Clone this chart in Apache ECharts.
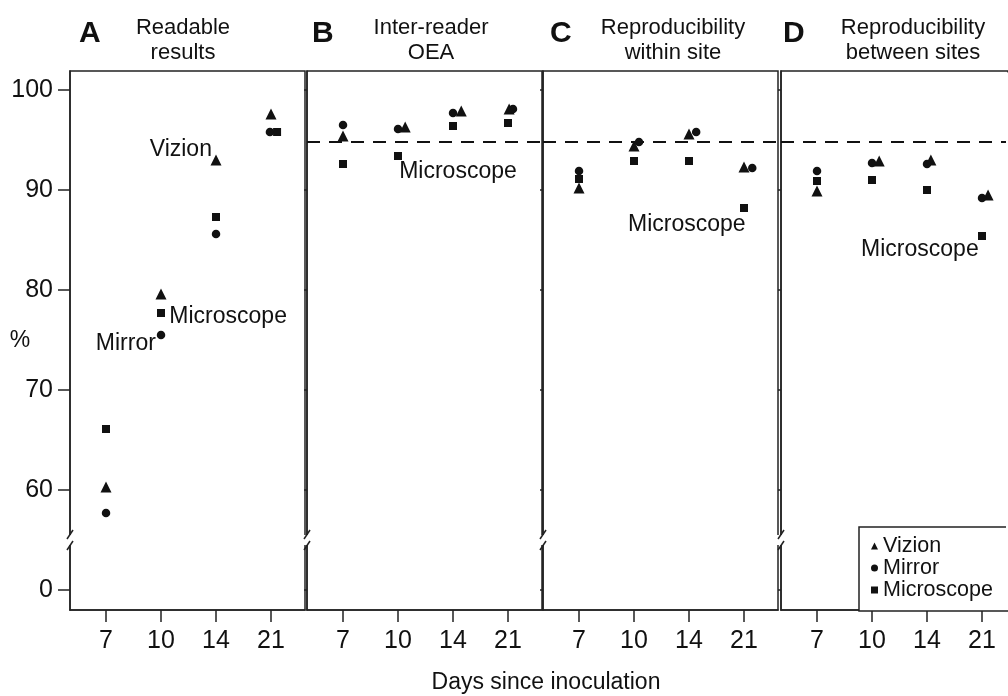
<!DOCTYPE html>
<html>
<head>
<meta charset="utf-8">
<script src="https://cdn.jsdelivr.net/npm/echarts@6/dist/echarts.min.js"></script>
<style>
  html, body { margin: 0; padding: 0; background: #fff; }
  #main { width: 1008px; height: 696px; }
</style>
</head>
<body>
<div id="main"></div>
<script>
// x categories (days since inoculation)
const days = ['7', '10', '14', '21']
const letters = ['A', 'B', 'C', 'D']
const titles = ['Readable\nresults', 'Inter-reader\nOEA', 'Reproducibility\nwithin site', 'Reproducibility\nbetween sites']

// % per panel (A..D), one value per day
const vizion = [
  [60.3, 79.6, 93.0, 97.6],
  [95.4, 96.3, 97.9, 98.1],
  [90.2, 94.4, 95.6, 92.3],
  [89.9, 92.9, 93.0, 89.5]
]
const mirror = [
  [57.7, 75.5, 85.6, 95.8],
  [96.5, 96.1, 97.7, 98.1],
  [91.9, 94.8, 95.8, 92.2],
  [91.9, 92.7, 92.6, 89.2]
]
const microscope = [
  [66.1, 77.7, 87.3, 95.8],
  [92.6, 93.4, 96.4, 96.7],
  [91.1, 92.9, 92.9, 88.2],
  [90.9, 91.0, 90.0, 85.4]
]
// dashed reference line in panels B-D
const target = 94.8

// y tick values; the axis is broken, 50 stands for 0
const yTicks = [50, 60, 70, 80, 90, 100]
const yLabels = ['0', '60', '70', '80', '90', '100']

// small horizontal nudges the original used so markers don't overlap
const nudge = {
  vizion: [[0, 0, 0, 0], [0, 0.13, 0.15, 0.02], [0, 0, 0, 0], [0, 0.13, 0.07, 0.11]],
  mirror: [[0, 0, 0, -0.02], [0, 0, 0, 0.09], [0, 0.09, 0.13, 0.15], [0, 0, 0, 0]],
  microscope: [[0, 0, 0, 0.11], [0, 0, 0, 0], [0, 0, 0, 0], [0, 0, 0, 0]]
}

// text annotations: panel, text, x (day index), y (%)
const notes = [
  [0, 'Vizion', 1.36, 94.0],
  [0, 'Microscope', 2.22, 77.3],
  [0, 'Mirror', 0.36, 74.6],
  [1, 'Microscope', 2.09, 91.85],
  [2, 'Microscope', 1.96, 86.55],
  [3, 'Microscope', 1.87, 84.0]
]

const FONT = '"Liberation Sans", Arial, Helvetica, sans-serif'
const INK = '#111'
const lefts = [70, 307, 543, 781]
const widths = [235, 235, 235, 227] // last panel is cut by the page edge
const xMin = -0.655
const pxPerDay = 55

const chart = echarts.init(document.getElementById('main'))

const series = []
lefts.forEach((l, i) => {
  const sets = [
    ['Vizion', 'triangle', 11, vizion[i], nudge.vizion[i]],
    ['Mirror', 'circle', 8.5, mirror[i], nudge.mirror[i]],
    ['Microscope', 'rect', 8, microscope[i], nudge.microscope[i]]
  ]
  sets.forEach(([name, symbol, size, vals, nd], k) => {
    const s = {
      name,
      type: 'scatter',
      xAxisIndex: i,
      yAxisIndex: i,
      symbol,
      symbolSize: size,
      itemStyle: { color: INK, opacity: 1 },
      data: vals.map((v, j) => [j + nd[j], v])
    }
    if (k === 0) {
      s.markPoint = {
        symbol: 'circle',
        symbolSize: 0,
        silent: true,
        itemStyle: { color: 'transparent' },
        label: { show: true, position: 'inside', formatter: '{b}', fontSize: 23, color: INK, fontFamily: FONT },
        data: notes.filter(n => n[0] === i).map(n => ({ name: n[1], coord: [n[2], n[3]] }))
      }
      if (i > 0) {
        s.markLine = {
          silent: true,
          symbol: ['none', 'none'],
          label: { show: false },
          lineStyle: { color: INK, width: 1.8, type: [13, 9] },
          data: [{ yAxis: target }]
        }
      }
    }
    series.push(s)
  })
})

chart.setOption({
  animation: false,
  backgroundColor: '#fff',
  textStyle: { fontFamily: FONT },
  grid: lefts.map((l, i) => ({
    left: l, top: 71, width: widths[i], height: 539,
    show: true, borderColor: '#222', borderWidth: 1.5
  })),
  xAxis: lefts.map((l, i) => ({
    gridIndex: i,
    type: 'value',
    min: xMin,
    max: xMin + widths[i] / pxPerDay,
    splitLine: { show: false },
    axisLine: { show: true, onZero: false, lineStyle: { color: '#222', width: 1.5 } },
    axisTick: { show: true, customValues: [0, 1, 2, 3], length: 12, lineStyle: { color: '#222', width: 1.5 } },
    axisLabel: { customValues: [0, 1, 2, 3], formatter: v => days[Math.round(v)], fontSize: 25, color: INK, margin: 19 }
  })),
  yAxis: lefts.map((l, i) => ({
    gridIndex: i,
    type: 'value',
    min: 48,
    max: 101.9,
    splitLine: { show: false },
    axisLine: { show: true, onZero: false, lineStyle: { color: '#222', width: 1.5 } },
    axisTick: { show: true, customValues: yTicks, length: i === 0 ? 12 : 3, lineStyle: { color: '#222', width: 1.5 } },
    axisLabel: {
      show: i === 0,
      customValues: yTicks,
      formatter: v => yLabels[yTicks.indexOf(Math.round(v))],
      fontSize: 25,
      color: INK,
      margin: 17
    }
  })),
  legend: {
    left: 859,
    top: 527,
    orient: 'vertical',
    itemWidth: 7,
    itemHeight: 7,
    itemGap: 0,
    padding: [8, 80, 10, 12],
    borderColor: '#222',
    borderWidth: 1.5,
    borderRadius: 0,
    backgroundColor: '#fff',
    textStyle: { fontSize: 21.5, color: INK, lineHeight: 22, fontFamily: FONT },
    data: [
      { name: 'Vizion', icon: 'triangle' },
      { name: 'Mirror', icon: 'circle' },
      { name: 'Microscope', icon: 'rect' }
    ]
  },
  series
})

// titles, axis names and the axis-break marks
const graphic = []
const letterX = [79, 312, 550, 783]
const titleX = [183, 431, 673, 913]
letters.forEach((t, i) => {
  graphic.push({
    type: 'text', x: letterX[i], y: 34,
    style: { text: t, font: 'bold 30px ' + FONT, fill: INK, verticalAlign: 'middle' }
  })
  graphic.push({
    type: 'text', x: titleX[i], y: 40,
    style: { text: titles[i], font: '22px ' + FONT, fill: INK, align: 'center', verticalAlign: 'middle', lineHeight: 25 }
  })
  const p = chart.convertToPixel({ gridIndex: i }, [xMin, 55])
  const x = p[0], y = p[1]
  graphic.push({ type: 'rect', z: 100, shape: { x: x - 4, y: y - 5, width: 8, height: 10 }, style: { fill: '#fff' } })
  graphic.push({ type: 'line', z: 101, shape: { x1: x + 3, y1: y - 10, x2: x - 3, y2: y - 1 }, style: { stroke: '#222', lineWidth: 1.5 } })
  graphic.push({ type: 'line', z: 101, shape: { x1: x + 3, y1: y + 1, x2: x - 3, y2: y + 10 }, style: { stroke: '#222', lineWidth: 1.5 } })
})
// the last panel and the legend box continue past the page edge: hide their right borders
graphic.push({ type: 'rect', z: 100, shape: { x: 1006, y: 72.5, width: 4, height: 536.5 }, style: { fill: '#fff' } })
graphic.push({
  type: 'text', x: 20, y: 341,
  style: { text: '%', font: '23px ' + FONT, fill: INK, align: 'center', verticalAlign: 'middle' }
})
graphic.push({
  type: 'text', x: 546, y: 683,
  style: { text: 'Days since inoculation', font: '23px ' + FONT, fill: INK, align: 'center', verticalAlign: 'middle' }
})
chart.setOption({ graphic })
</script>
</body>
</html>
